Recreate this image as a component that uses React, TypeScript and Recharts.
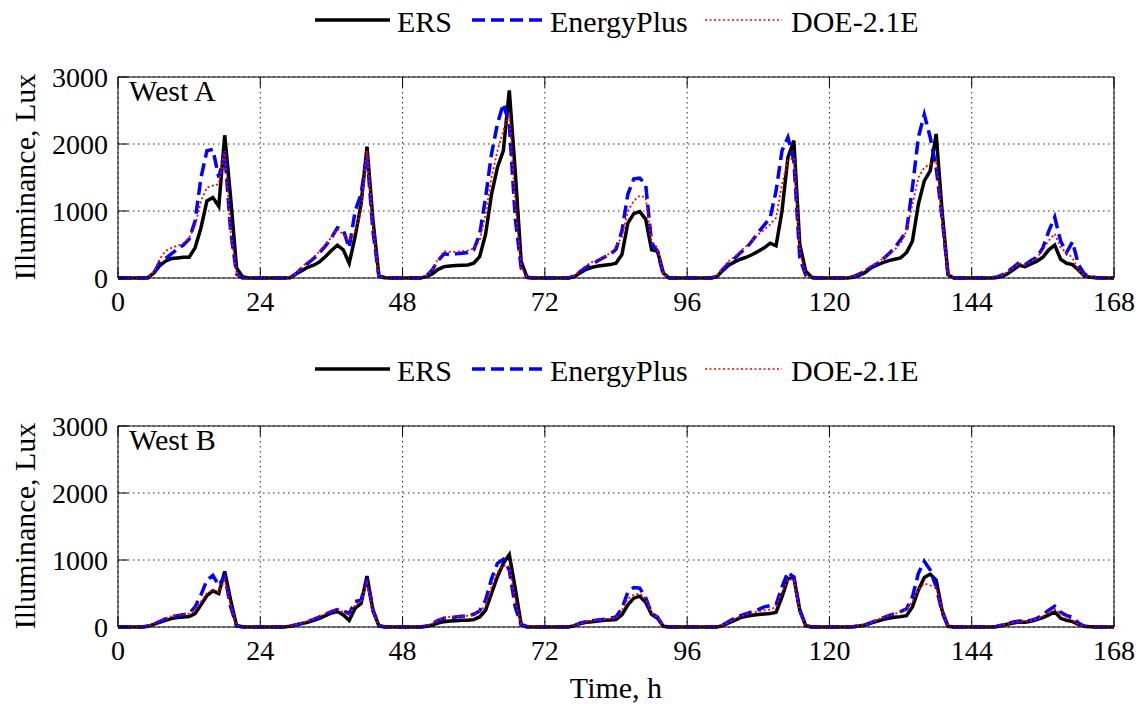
import React from 'react';
import { LineChart, Line, XAxis, YAxis, CartesianGrid } from 'recharts';

// hourly samples, one week
const hours = Array.from({ length: 169 }, (_, i) => i);
const xTicks = [0, 24, 48, 72, 96, 120, 144, 168];
const yTicks = [0, 1000, 2000, 3000];

// West A
const ersA = [
  0, 0, 0, 0, 0, 5, 70, 180, 250, 290, 300, 310, 310, 450, 750, 1150, 1200, 1070, 2130, 1200, 150, 20, 0, 0,
  0, 0, 0, 0, 0, 5, 60, 110, 160, 190, 240, 320, 410, 490, 420, 220, 620, 1100, 1960, 870, 40, 5, 0, 0,
  0, 0, 0, 0, 20, 60, 130, 170, 180, 185, 190, 195, 220, 320, 650, 1250, 1650, 1900, 2800, 1600, 250, 10, 0, 0,
  0, 0, 0, 0, 0, 20, 80, 130, 160, 180, 190, 200, 220, 350, 820, 960, 990, 880, 420, 400, 70, 0, 0, 0,
  0, 0, 0, 0, 0, 20, 110, 190, 240, 280, 310, 350, 400, 450, 520, 480, 1000, 1800, 2050, 500, 100, 10, 0, 0,
  0, 0, 0, 0, 10, 40, 80, 150, 190, 230, 260, 280, 300, 380, 550, 1100, 1450, 1600, 2150, 1000, 50, 0, 0, 0,
  0, 0, 0, 0, 5, 20, 60, 120, 190, 170, 210, 250, 310, 420, 490, 280, 220, 200, 120, 30, 10, 5, 0, 0, 0,
];
const epA = [
  0, 0, 0, 0, 0, 0, 60, 230, 290, 360, 430, 490, 580, 850, 1500, 1900, 1920, 1500, 1880, 700, 60, 0, 0, 0,
  0, 0, 0, 0, 0, 0, 60, 150, 220, 290, 380, 480, 600, 750, 720, 450, 1000, 1250, 1850, 700, 30, 0, 0, 0,
  0, 0, 0, 0, 30, 120, 260, 360, 350, 360, 370, 380, 420, 650, 1200, 1850, 2300, 2600, 2300, 900, 150, 10, 0, 0,
  0, 0, 0, 0, 0, 30, 100, 160, 210, 260, 310, 350, 430, 700, 1250, 1480, 1490, 1400, 520, 400, 40, 0, 0, 0,
  0, 0, 0, 0, 0, 20, 130, 220, 290, 380, 450, 560, 680, 790, 900, 1300, 1900, 2100, 1750, 300, 40, 0, 0, 0,
  0, 0, 0, 0, 20, 60, 100, 160, 210, 280, 360, 450, 570, 700, 1350, 2100, 2440, 2100, 1650, 900, 60, 0, 0, 0,
  0, 0, 0, 0, 10, 40, 90, 160, 230, 200, 260, 310, 450, 700, 910, 550, 380, 540, 200, 60, 20, 5, 0, 0, 0,
];
const doeA = [
  0, 0, 0, 0, 0, 0, 90, 280, 400, 450, 480, 520, 600, 780, 1150, 1350, 1380, 1400, 1900, 700, 60, 0, 0, 0,
  0, 0, 0, 0, 0, 0, 70, 160, 240, 310, 400, 500, 610, 730, 650, 550, 700, 1000, 1900, 750, 30, 0, 0, 0,
  0, 0, 0, 0, 30, 130, 280, 400, 390, 390, 400, 410, 440, 560, 950, 1500, 1900, 2200, 2450, 1100, 150, 10, 0, 0,
  0, 0, 0, 0, 0, 40, 120, 190, 240, 270, 320, 370, 460, 620, 1000, 1150, 1230, 1200, 550, 450, 50, 0, 0, 0,
  0, 0, 0, 0, 0, 30, 150, 250, 320, 400, 480, 560, 650, 720, 800, 900, 1400, 1750, 1800, 400, 50, 0, 0, 0,
  0, 0, 0, 0, 20, 70, 120, 180, 230, 290, 350, 420, 520, 700, 1100, 1500, 1650, 1700, 1750, 900, 60, 0, 0, 0,
  0, 0, 0, 0, 10, 40, 90, 150, 220, 200, 250, 300, 420, 560, 660, 450, 380, 300, 120, 30, 10, 5, 0, 0, 0,
];

// West B
const ersB = [
  0, 0, 0, 0, 0, 10, 40, 70, 100, 125, 140, 150, 155, 200, 330, 470, 540, 500, 830, 400, 20, 5, 0, 0,
  0, 0, 0, 0, 0, 10, 30, 50, 70, 100, 130, 170, 210, 230, 180, 100, 280, 350, 760, 250, 20, 0, 0, 0,
  0, 0, 0, 0, 10, 30, 60, 80, 90, 95, 100, 100, 110, 150, 250, 500, 750, 950, 1080, 580, 40, 5, 0, 0,
  0, 0, 0, 0, 0, 20, 50, 70, 80, 90, 100, 105, 110, 180, 330, 430, 460, 370, 190, 130, 10, 0, 0, 0,
  0, 0, 0, 0, 0, 0, 20, 60, 100, 140, 160, 175, 185, 195, 200, 220, 450, 720, 740, 250, 20, 0, 0, 0,
  0, 0, 0, 0, 5, 15, 30, 60, 85, 110, 130, 145, 155, 170, 300, 550, 740, 790, 700, 250, 10, 0, 0, 0,
  0, 0, 0, 0, 5, 20, 40, 60, 75, 70, 85, 110, 140, 180, 225, 130, 100, 80, 40, 10, 5, 0, 0, 0, 0,
];
const epB = [
  0, 0, 0, 0, 0, 10, 40, 80, 120, 150, 170, 185, 200, 300, 480, 700, 770, 620, 760, 300, 20, 0, 0, 0,
  0, 0, 0, 0, 0, 10, 30, 55, 80, 115, 150, 190, 230, 260, 240, 200, 380, 400, 720, 250, 20, 0, 0, 0,
  0, 0, 0, 0, 10, 50, 100, 130, 140, 150, 160, 165, 190, 240, 400, 720, 950, 1010, 850, 300, 30, 0, 0, 0,
  0, 0, 0, 0, 0, 20, 60, 80, 95, 105, 115, 130, 150, 280, 520, 590, 580, 440, 200, 150, 10, 0, 0, 0,
  0, 0, 0, 0, 0, 0, 30, 80, 130, 170, 200, 230, 260, 300, 320, 330, 600, 820, 740, 250, 20, 0, 0, 0,
  0, 0, 0, 0, 5, 15, 30, 65, 100, 135, 170, 200, 230, 270, 450, 800, 980, 850, 600, 220, 10, 0, 0, 0,
  0, 0, 0, 0, 5, 25, 50, 75, 90, 85, 100, 130, 180, 250, 310, 220, 170, 150, 60, 10, 5, 0, 0, 0, 0,
];
const doeB = [
  0, 0, 0, 0, 0, 10, 50, 100, 130, 160, 180, 190, 200, 260, 380, 500, 560, 520, 700, 330, 20, 0, 0, 0,
  0, 0, 0, 0, 0, 10, 35, 60, 90, 120, 160, 200, 240, 270, 220, 180, 330, 380, 650, 230, 20, 0, 0, 0,
  0, 0, 0, 0, 10, 50, 110, 140, 150, 155, 160, 170, 190, 230, 320, 600, 820, 920, 900, 400, 40, 0, 0, 0,
  0, 0, 0, 0, 0, 20, 55, 80, 95, 105, 115, 125, 140, 240, 420, 480, 500, 430, 210, 150, 10, 0, 0, 0,
  0, 0, 0, 0, 0, 0, 30, 75, 120, 160, 190, 215, 235, 250, 260, 300, 520, 700, 720, 230, 20, 0, 0, 0,
  0, 0, 0, 0, 5, 15, 35, 70, 105, 140, 170, 195, 225, 260, 380, 560, 650, 620, 600, 250, 10, 0, 0, 0,
  0, 0, 0, 0, 5, 20, 45, 70, 85, 80, 95, 120, 160, 220, 270, 200, 150, 100, 40, 10, 5, 0, 0, 0, 0,
];

const FONT = '"Liberation Serif", "Times New Roman", Times, serif';

const series = [
  { key: 'ers', name: 'ERS', color: '#000000', width: 3.5, dash: undefined },
  { key: 'ep', name: 'EnergyPlus', color: '#0000ff', width: 3.5, dash: '13 6' },
  { key: 'doe', name: 'DOE-2.1E', color: '#ff0000', width: 1.8, dash: '2 2.5' },
];

// legend sample x positions (px)
const legendPos = [
  { x: 315, w: 75, tx: 397 },
  { x: 472, w: 71, tx: 550 },
  { x: 705, w: 77, tx: 791 },
];

const buildRows = (ers: number[], ep: number[], doe: number[]) =>
  hours.map((h, i) => ({ h, ers: ers[i], ep: ep[i], doe: doe[i] }));

const W = 1142;
const H = 352;
const noTick = () => <g />;
const tickFont = { fontSize: 28, fill: '#000', fontFamily: FONT };

function Panel({ top, title, rows }: { top: number; title: string; rows: any[] }) {
  return (
    <div style={{ position: 'absolute', left: 0, top, width: W, height: H }}>
      {/* legend */}
      {series.map((s, i) => (
        <React.Fragment key={s.key}>
          <svg
            width={legendPos[i].w}
            height={10}
            style={{ position: 'absolute', left: legendPos[i].x, top: 15 }}
          >
            <line
              x1={0}
              x2={legendPos[i].w}
              y1={5}
              y2={5}
              stroke={s.color}
              strokeWidth={s.key === 'doe' ? 1.4 : s.width}
              strokeDasharray={s.dash}
            />
          </svg>
          <div
            style={{
              position: 'absolute',
              left: legendPos[i].tx,
              top: 7,
              fontSize: 30,
              lineHeight: '30px',
              whiteSpace: 'nowrap',
            }}
          >
            {s.name}
          </div>
        </React.Fragment>
      ))}

      {/* plot area: x 118..1114, y 77..278 */}
      <LineChart width={W} height={H} data={rows} margin={{ top: 76, right: 27, bottom: 34, left: 58 }}>
        <CartesianGrid stroke="#222" strokeDasharray="1.5 3.5" strokeWidth={1} />
        <XAxis
          dataKey="h"
          type="number"
          domain={[0, 168]}
          ticks={xTicks}
          interval={0}
          height={40}
          tickSize={-10}
          tickMargin={23}
          axisLine={{ stroke: '#000' }}
          tickLine={{ stroke: '#000' }}
          tick={tickFont}
        />
        <XAxis
          xAxisId="top"
          orientation="top"
          dataKey="h"
          type="number"
          domain={[0, 168]}
          ticks={xTicks}
          interval={0}
          height={1}
          tickSize={-10}
          axisLine={{ stroke: '#000' }}
          tickLine={{ stroke: '#000' }}
          tick={noTick}
        />
        <YAxis
          type="number"
          domain={[0, 3000]}
          ticks={yTicks}
          interval={0}
          width={60}
          tickSize={-10}
          tickMargin={20}
          axisLine={{ stroke: '#000' }}
          tickLine={{ stroke: '#000' }}
          tick={tickFont}
        />
        <YAxis
          yAxisId="right"
          orientation="right"
          type="number"
          domain={[0, 3000]}
          ticks={yTicks}
          interval={0}
          width={1}
          tickSize={-10}
          axisLine={{ stroke: '#000' }}
          tickLine={{ stroke: '#000' }}
          tick={noTick}
        />
        {series.map((s) => (
          <Line
            key={s.key}
            type="linear"
            dataKey={s.key}
            name={s.name}
            stroke={s.color}
            strokeWidth={s.width}
            strokeDasharray={s.dash}
            dot={false}
            activeDot={false}
            isAnimationActive={false}
          />
        ))}
      </LineChart>

      {/* panel title */}
      <div style={{ position: 'absolute', left: 129, top: 76, fontSize: 30, lineHeight: '30px' }}>{title}</div>

      {/* y axis label */}
      <div
        style={{
          position: 'absolute',
          left: 25 - 140,
          top: 177 - 18,
          width: 280,
          height: 36,
          lineHeight: '36px',
          fontSize: 30,
          textAlign: 'center',
          transform: 'rotate(-90deg)',
          whiteSpace: 'nowrap',
        }}
      >
        Illuminance, Lux
      </div>
    </div>
  );
}

export default function App() {
  const rowsA = buildRows(ersA, epA, doeA);
  const rowsB = buildRows(ersB, epB, doeB);
  return (
    <div
      style={{
        position: 'absolute',
        left: 0,
        top: 0,
        width: W,
        height: 704,
        background: '#fff',
        fontFamily: FONT,
        color: '#000',
        overflow: 'hidden',
      }}
    >
      <Panel top={0} title="West A" rows={rowsA} />
      <Panel top={349} title="West B" rows={rowsB} />
      <div
        style={{
          position: 'absolute',
          left: 516,
          top: 673,
          width: 200,
          textAlign: 'center',
          fontSize: 30,
          lineHeight: '30px',
        }}
      >
        Time, h
      </div>
    </div>
  );
}
